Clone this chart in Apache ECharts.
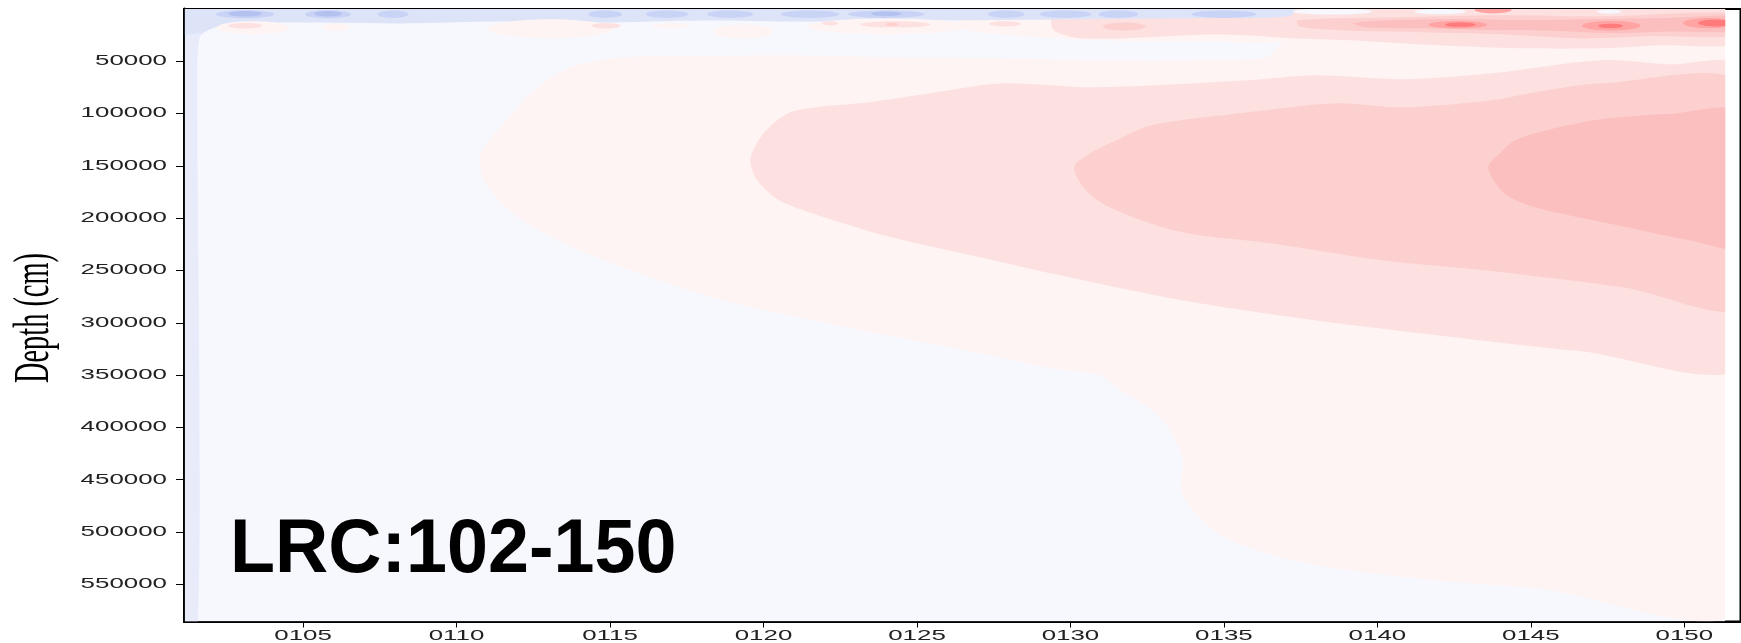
<!DOCTYPE html>
<html>
<head>
<meta charset="utf-8">
<script src="https://cdn.jsdelivr.net/npm/echarts@6/dist/echarts.min.js"></script>
<style>
  html, body { margin: 0; padding: 0; background: #ffffff; }
  #chart { width: 1741px; height: 643px; }
</style>
</head>
<body>
<div id="chart"></div>
<script>
// ---- axes -------------------------------------------------------------
const xAxisRange = [101.12, 151.83];
const depthAxisRange = [0, 585600];           // cm, grows downwards

const xTickValues = [105, 110, 115, 120, 125, 130, 135, 140, 145, 150];
const xTickLabels = ['0105', '0110', '0115', '0120', '0125', '0130', '0135', '0140', '0145', '0150'];
const yTickValues = [50000, 100000, 150000, 200000, 250000, 300000, 350000, 400000, 450000, 500000, 550000];
const yTickLabels = ['50000', '100000', '150000', '200000', '250000', '300000', '350000', '400000', '450000', '500000', '550000'];

// ---- extent of the gridded field --------------------------------------
const fieldX = [101.15, 151.33];
const fieldDepth = [0, 585600];

// ---- filled contour bands: outlines as [column, depth cm] ---------------
// thin cold column along the first profile
const leftStrip = [[100.5, -6000], [101.95, -6000], [101.9, 18000], [101.62, 28000], [101.55, 60000], [101.55, 600000], [100.5, 600000]];

// weak warm anomaly (level 1)
const level1Outline = [
  [151.9, -6000], [137.16, -6000], [137.0, 25100], [136.51, 44300], [135.86, 48100], [130.97, 49000],
  [127.71, 47100], [124.45, 46200], [120.51, 44300], [117.94, 45200], [115.43, 46200], [113.70, 55700],
  [112.53, 77700], [111.52, 109300], [110.77, 137900], [110.77, 147500], [110.87, 163800], [111.81, 195300],
  [113.99, 230700], [118.33, 275600], [122.69, 304300], [127.06, 329200], [129.34, 343500], [130.97, 350200],
  [131.49, 361700], [132.92, 390400], [133.64, 428600], [133.64, 463000], [134.78, 501200], [137.23, 527000],
  [140.84, 543000], [145.14, 553800], [151.9, 569000]
];
const level1TopStrip = [
  [126.41, 10800], [130.97, 7900], [137.3, 5100], [137.3, 28000], [134.23, 30900], [130.97, 29900],
  [127.71, 24200], [126.41, 18500]
];

// level 2
const level2Outline = [
  [151.9, 57200], [149.44, 52900], [147.29, 49000], [143.71, 61500], [140.84, 67200], [137.94, 63400],
  [135.79, 68200], [130.77, 74900], [127.81, 71000], [125.63, 79600], [123.44, 89200], [121.68, 94000],
  [120.80, 99700], [120.09, 115900], [119.66, 135100], [119.57, 146600], [119.79, 163800], [120.51, 182900],
  [121.98, 199100], [124.16, 218300], [127.06, 237400], [129.34, 252700], [133.64, 278500], [137.94, 297600],
  [142.28, 313000], [146.58, 327000], [151.9, 339000]
];
const level2TopBand = [
  [151.9, -6000], [129.6, -6000], [129.4, 18000], [130.0, 26500], [131.0, 28500], [132.5, 27000],
  [134.2, 24500], [136.0, 25500], [137.16, 28000], [139.12, 29900], [141.98, 34700], [144.65, 37600],
  [147.29, 37600], [149.22, 34700], [151.9, 31500]
];

// level 3
const level3Outline = [
  [151.9, 73100], [147.29, 71000], [145.14, 79600], [143.71, 87300], [140.84, 94000], [138.66, 90100],
  [135.79, 98800], [132.63, 111200], [131.49, 125600], [130.64, 137900], [130.12, 151300], [130.55, 175200],
  [131.49, 192600], [133.64, 213500], [136.51, 224000], [140.13, 240200], [143.71, 250500], [148.01, 266000],
  [151.9, 283000]
];
const level3TopBand = [
  [137.39, 10800], [140.74, 7900], [144.00, 6000], [147.26, 7000], [151.9, 5000], [151.9, 24400],
  [148.89, 26100], [146.61, 28100], [144.00, 24200], [141.40, 22300], [138.79, 20400], [137.49, 17000]
];

// level 4
const level4Outline = [
  [151.9, 100000], [149.44, 100500], [147.29, 105500], [145.70, 114600], [144.49, 125500], [144.00, 137900],
  [143.61, 151300], [144.13, 176200], [145.14, 189600], [148.01, 208000], [150.16, 221000], [151.9, 226000]
];
const level4TopBand = [
  [139.2, 13500], [140.6, 10500], [142.5, 9500], [145.0, 10500], [147.0, 9500], [149.5, 8500], [151.9, 7500],
  [151.9, 20500], [149.5, 21500], [147.5, 23000], [145.5, 20500], [143.5, 20000], [141.5, 18500], [139.6, 17500]
];

// cold surface layer (level -1)
const blueTopBand = [
  [100.5, -6000], [137.3, -6000], [137.16, 6500], [134.23, 8500], [130.97, 9500], [127.71, 10500],
  [124.45, 11000], [121.19, 12000], [117.94, 11000], [114.68, 13000], [111.42, 12000], [108.16, 13800],
  [104.90, 13000], [102.62, 14000], [101.95, 19500], [101.7, 23000], [100.5, 23000]
];

// small surface cells: [column, depth, half width (columns), half height (cm), level]
const surfaceCells = [
  // cold cells
  [103.11, 5000, 0.95, 3800, -2], [105.81, 5000, 0.75, 3800, -2], [107.93, 5000, 0.50, 3500, -2],
  [114.84, 5000, 0.55, 3500, -2], [116.86, 5000, 0.70, 3500, -2], [118.91, 5000, 0.75, 3500, -2],
  [121.52, 5000, 0.95, 3500, -2], [124.00, 5000, 1.25, 3500, -2], [127.91, 5000, 0.60, 3500, -2],
  [129.83, 5000, 0.85, 3500, -2], [131.56, 5000, 0.65, 3500, -2], [135.00, 5000, 1.05, 3500, -2],
  [103.11, 4500, 0.55, 2600, -3], [105.81, 4500, 0.45, 2600, -3], [124.00, 4500, 0.50, 2200, -3],
  // weak warm cells
  [103.37, 18000, 1.19, 6200, 1], [106.08, 17500, 0.44, 3800, 1], [113.05, 19000, 2.05, 9100, 1],
  [116.99, 16100, 0.60, 2400, 1], [119.34, 21400, 0.98, 6700, 1], [124.03, 16600, 2.61, 7600, 1],
  [103.11, 16100, 0.55, 2600, 2], [114.87, 16100, 0.48, 2600, 2], [122.17, 13700, 0.26, 2000, 2],
  [124.29, 14700, 1.14, 3000, 2], [127.87, 14200, 0.52, 2500, 2],
  [124.19, 14700, 0.22, 1500, 3], [131.75, 16800, 0.70, 3900, 3],
  // warm cells of the eastern surface layer
  [142.62, 15000, 0.95, 3600, 5], [147.62, 16000, 0.95, 4500, 5], [150.80, 13500, 0.85, 5000, 5], [143.77, 1000, 0.60, 3200, 5],
  [142.70, 15000, 0.50, 2000, 6], [147.60, 16200, 0.40, 2000, 6], [151.00, 13500, 0.55, 3200, 6],
  // neutral gaps at the very surface
  [138.53, 2500, 1.29, 3000, 0], [142.05, 2500, 0.85, 2500, 0], [147.55, 2500, 0.40, 2000, 0]
];

// ---- colour of each level ----------------------------------------------
const levelColors = {
  'strip': '#e8ecfa',
  '-3': '#b3c1ef', '-2': '#c9d3f5', '-1': '#dde4f8', '0': '#f7f8fe',
  '1': '#fef4f3', '2': '#fde1e1', '3': '#fdd0d0', '4': '#fcbfbf', '5': '#ffa3a3', '6': '#ff7a7a'
};

// paint order: background, bands from weak to strong, then surface cells
const fieldRect = [[fieldX[0], fieldDepth[0]], [fieldX[1], fieldDepth[0]], [fieldX[1], fieldDepth[1]], [fieldX[0], fieldDepth[1]]];
const fieldShapes = [
  { level: '0', points: fieldRect, smooth: 0 },
  { level: 'strip', points: leftStrip, smooth: 0.2 },
  { level: '1', points: level1Outline, smooth: 0.3 },
  { level: '1', points: level1TopStrip, smooth: 0.4 },
  { level: '2', points: level2Outline, smooth: 0.3 },
  { level: '2', points: level2TopBand, smooth: 0.3 },
  { level: '3', points: level3Outline, smooth: 0.3 },
  { level: '3', points: level3TopBand, smooth: 0.3 },
  { level: '4', points: level4Outline, smooth: 0.3 },
  { level: '4', points: level4TopBand, smooth: 0.3 },
  { level: '-1', points: blueTopBand, smooth: 0.3 }
].concat(surfaceCells.map(c => ({ level: String(c[4]), ellipse: c })));

function renderField(params, api) {
  const s = fieldShapes[params.dataIndex];
  const a = api.coord([fieldX[0], fieldDepth[0]]);
  const b = api.coord([fieldX[1], fieldDepth[1]]);
  const clip = {
    type: 'rect',
    shape: { x: Math.min(a[0], b[0]), y: Math.min(a[1], b[1]), width: Math.abs(b[0] - a[0]), height: Math.abs(b[1] - a[1]) }
  };
  let child;
  if (s.ellipse) {
    const e = s.ellipse;
    const c = api.coord([e[0], e[1]]);
    const r = api.coord([e[0] + e[2], e[1] + e[3]]);
    child = {
      type: 'ellipse',
      shape: { cx: c[0], cy: c[1], rx: Math.abs(r[0] - c[0]), ry: Math.abs(r[1] - c[1]) },
      style: { fill: levelColors[s.level] }
    };
  } else {
    child = {
      type: 'polygon',
      shape: { points: s.points.map(p => api.coord(p)), smooth: s.smooth },
      style: { fill: levelColors[s.level] }
    };
  }
  return { type: 'group', clipPath: clip, children: [child] };
}

const labelFont = '14px "Liberation Sans", Arial, sans-serif';

const chart = echarts.init(document.getElementById('chart'), null, { renderer: 'canvas' });
chart.setOption({
  animation: false,
  backgroundColor: '#ffffff',
  grid: {
    left: 184, right: 0.5, top: 9, bottom: 21.5,
    show: true, borderColor: '#000000', borderWidth: 2, backgroundColor: '#ffffff'
  },
  xAxis: {
    type: 'value', position: 'bottom',
    min: xAxisRange[0], max: xAxisRange[1],
    axisLine: { onZero: false, lineStyle: { color: '#000000', width: 2 } },
    axisTick: { show: true, customValues: xTickValues, length: 6, lineStyle: { color: '#000000', width: 1 } },
    axisLabel: { show: false },
    splitLine: { show: false }
  },
  yAxis: {
    type: 'value', inverse: true,
    min: depthAxisRange[0], max: depthAxisRange[1],
    axisLine: { show: true, onZero: false, lineStyle: { color: '#000000', width: 3 } },
    axisTick: { show: true, customValues: yTickValues, length: 8, lineStyle: { color: '#000000', width: 1 } },
    axisLabel: { show: false },
    splitLine: { show: false }
  },
  graphic: [
    {
      type: 'text', x: 35, y: 318, rotation: Math.PI / 2, scaleX: 0.567, scaleY: 1,
      style: { text: 'Depth (cm)', font: '50px "Liberation Serif", "Times New Roman", serif', fill: '#000000', align: 'center', verticalAlign: 'middle' }
    },
    {
      type: 'text', x: 230, y: 551, scaleX: 0.97, scaleY: 1, z: 100,
      style: { text: 'LRC:102-150', font: 'bold 76px "Liberation Sans", Arial, sans-serif', fill: '#000000', align: 'left', verticalAlign: 'middle' }
    }
  ],
  series: [
    {
      type: 'custom', name: 'field', coordinateSystem: 'cartesian2d', clip: true, silent: true,
      encode: { x: 0, y: 1 },
      data: fieldShapes.map((s, i) => [fieldX[0], fieldDepth[0], i]),
      renderItem: renderField
    },
    {
      type: 'custom', name: 'depth labels', coordinateSystem: 'cartesian2d', clip: false, silent: true,
      encode: { x: 0, y: 1 },
      data: yTickValues.map((v, i) => [xAxisRange[0], v, i]),
      renderItem: function (params, api) {
        const p = api.coord([xAxisRange[0], yTickValues[params.dataIndex]]);
        return {
          type: 'text', x: p[0] - 17, y: p[1], scaleX: 1.85, scaleY: 1,
          style: { text: yTickLabels[params.dataIndex], font: labelFont, fill: '#222222', align: 'right', verticalAlign: 'middle' }
        };
      }
    },
    {
      type: 'custom', name: 'profile labels', coordinateSystem: 'cartesian2d', clip: false, silent: true,
      encode: { x: 0, y: 1 },
      data: xTickValues.map((v, i) => [v, depthAxisRange[1], i]),
      renderItem: function (params, api) {
        const p = api.coord([xTickValues[params.dataIndex], depthAxisRange[1]]);
        return {
          type: 'text', x: p[0], y: p[1] + 15, scaleX: 1.85, scaleY: 1,
          style: { text: xTickLabels[params.dataIndex], font: labelFont, fill: '#222222', align: 'center', verticalAlign: 'middle' }
        };
      }
    }
  ]
});
</script>
</body>
</html>
